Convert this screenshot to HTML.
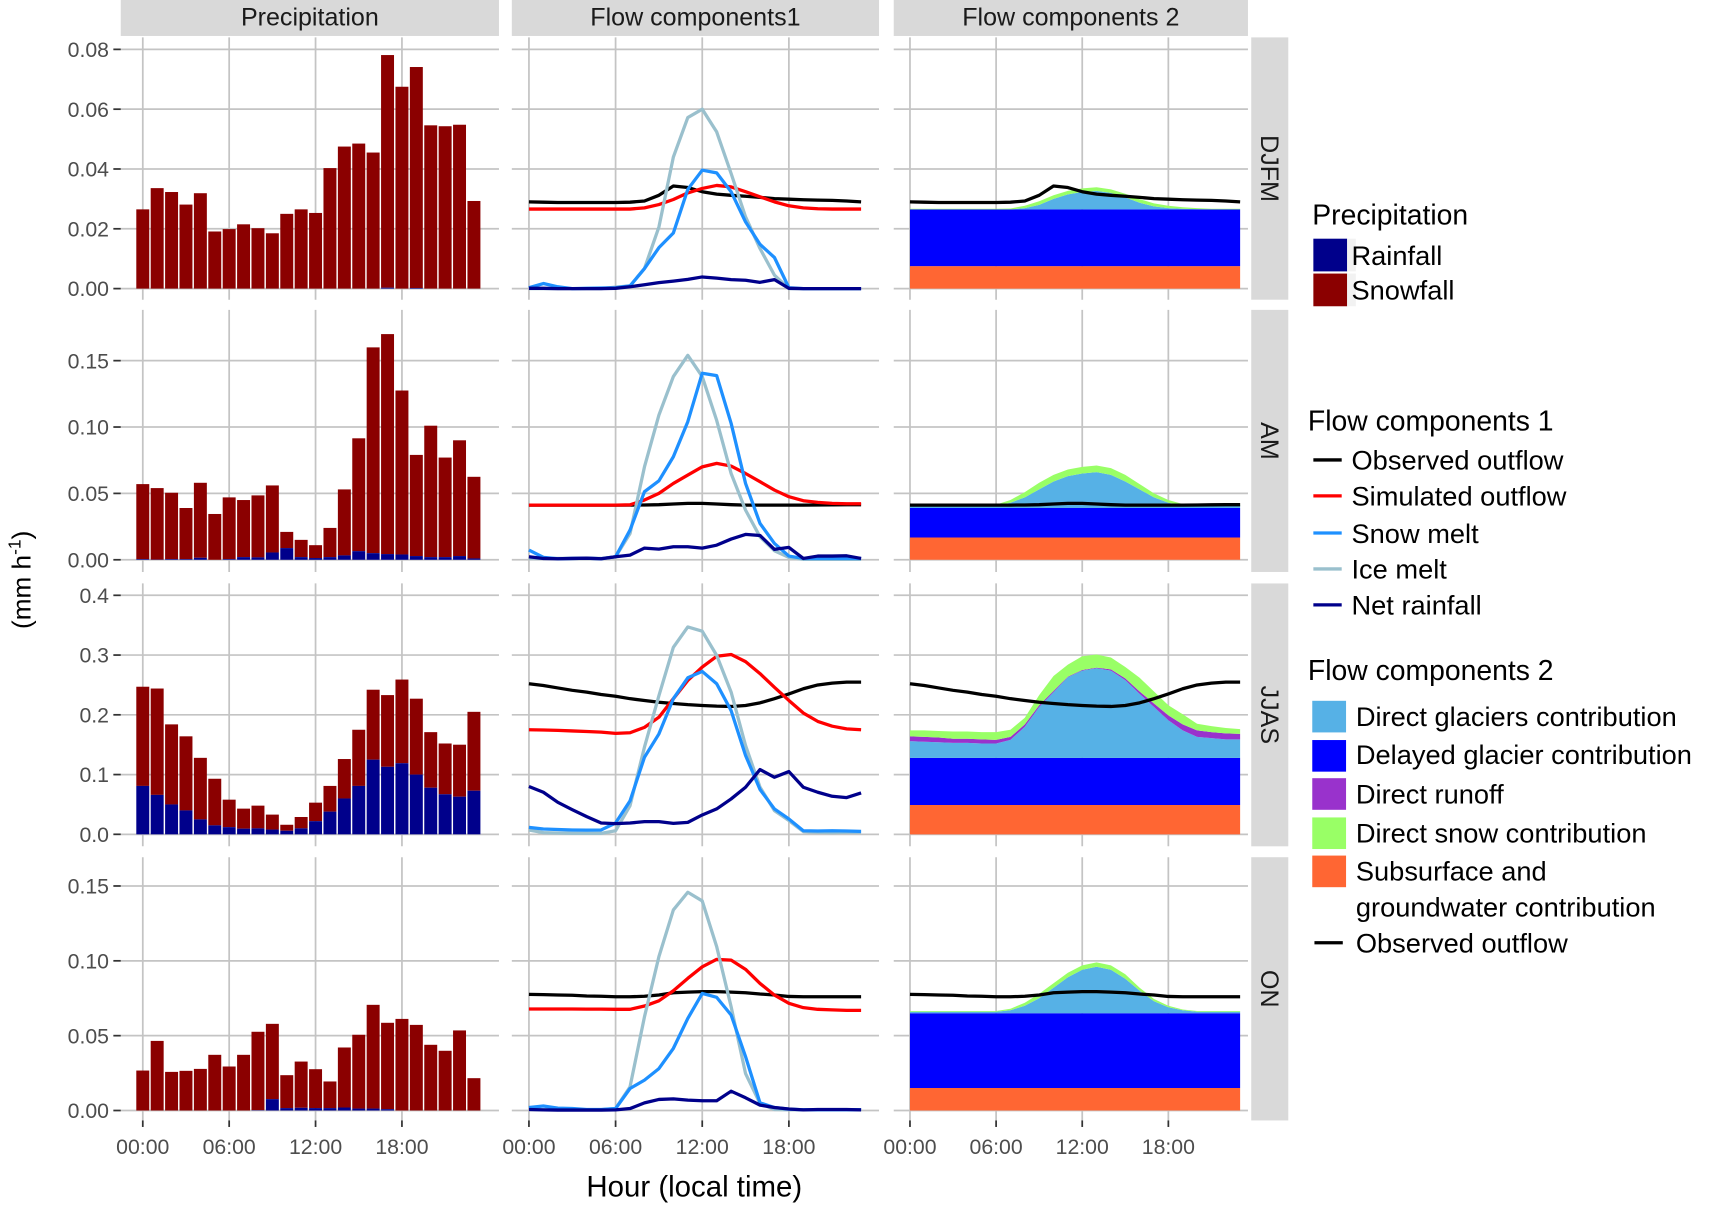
<!DOCTYPE html>
<html><head><meta charset="utf-8"><style>
html,body{margin:0;padding:0;background:#fff;}
svg{display:block;font-family:"Liberation Sans",sans-serif;}
</style></head><body>
<svg id="chart" xmlns="http://www.w3.org/2000/svg" width="1709" height="1205" viewBox="0 0 1568 1105.6" preserveAspectRatio="none"></svg>
<script>
// ---------- data ----------
const seasons = ["DJFM","AM","JJAS","ON"];
const hours = [0,1,2,3,4,5,6,7,8,9,10,11,12,13,14,15,16,17,18,19,20,21,22,23];
const xTickHours = [0,6,12,18];
const xTickLabels = ["00:00","06:00","12:00","18:00"];
const yTicks1 = [0,0.02,0.04,0.06,0.08];
const yTickLabels1 = ["0.00","0.02","0.04","0.06","0.08"];
const yTicks2 = [0,0.05,0.10,0.15];
const yTickLabels2 = ["0.00","0.05","0.10","0.15"];
const yTicks3 = [0,0.1,0.2,0.3,0.4];
const yTickLabels3 = ["0.0","0.1","0.2","0.3","0.4"];
const yTicks4 = [0,0.05,0.10,0.15];
const yTickLabels4 = ["0.00","0.05","0.10","0.15"];

const precipTotal1 = [.0265,.0336,.0323,.0281,.0319,.0191,.0199,.0215,.0202,.0185,.0250,.0265,.0253,.0403,.0475,.0485,.0455,.0781,.0675,.0741,.0546,.0543,.0548,.0293];
const rainfall1 = [0,0,0,0,0,0,0,0,0,0,0,0,0,0,0,0,0,0.0003,0,0.0002,0,0,0,0];
const precipTotal2 = [.057,.054,.0505,.039,.058,.0345,.047,.045,.0485,.056,.021,.015,.011,.024,.053,.0915,.160,.170,.1275,.079,.101,.077,.090,.0625];
const rainfall2 = [.0005,.0002,.0005,.0005,.0015,0,.0005,.002,.0018,.0055,.0088,.002,.0013,.002,.0033,.0065,.005,.0043,.004,.0028,.002,.002,.0028,.001];
const precipTotal3 = [.247,.244,.184,.164,.128,.093,.058,.043,.048,.033,.016,.029,.053,.081,.126,.175,.242,.233,.259,.227,.171,.152,.150,.205];
const rainfall3 = [.081,.066,.050,.040,.025,.015,.012,.0095,.010,.008,.006,.010,.022,.038,.060,.081,.125,.113,.119,.100,.078,.067,.063,.073];
const precipTotal4 = [.0267,.0465,.0258,.0265,.0278,.0372,.0294,.0372,.0526,.0579,.0236,.0327,.0276,.0194,.0421,.0506,.0706,.0586,.0612,.0572,.0439,.0399,.0535,.0216];
const rainfall4 = [0,0,0,0,0,0,0,0,.0002,.0076,.0016,.0018,.0016,.0016,.002,.0013,.0013,.0009,0,0,0,0,0,0];

const observed1 = [.0290,.0289,.0288,.0288,.0288,.0288,.0288,.0289,.0293,.0312,.0343,.0338,.0324,.0316,.0312,.0309,.0305,.0301,.0299,.0297,.0296,.0295,.0293,.0290];
const simulated1 = [.0266,.0266,.0266,.0266,.0266,.0266,.0266,.0266,.0270,.0281,.0298,.0320,.0335,.0345,.0340,.0324,.0307,.0290,.0277,.0270,.0267,.0266,.0266,.0266];
const snowMelt1 = [.0003,.0017,.0006,0,.0001,.0002,.0003,.0009,.0067,.0137,.0186,.0332,.0396,.0387,.0324,.0223,.0148,.0104,.0003,0,0,0,0,0];
const iceMelt1 = [0,0,0,0,0,0,.0005,.0009,.0067,.0206,.044,.0572,.060,.0524,.0385,.024,.0134,.0045,0,0,0,0,0,0];
const netRain1 = [.0001,.0001,0,0,0,0,.0001,.0006,.0013,.002,.0025,.0031,.0039,.0035,.003,.0028,.0021,.003,.0001,0,0,0,0,0];

const observed2 = [.0412,.0412,.0412,.0412,.0412,.0412,.0412,.0412,.0413,.0415,.042,.0425,.0425,.042,.0415,.0412,.0412,.0412,.0412,.0412,.0413,.0414,.0415,.0415];
const simulated2 = [.0412,.0412,.0412,.0412,.0412,.0412,.0412,.0414,.045,.050,.0575,.0638,.070,.0726,.0706,.065,.0588,.0525,.0475,.0445,.0432,.0425,.0422,.0422];
const snowMelt2 = [.0073,.0018,.0008,.001,.0012,.0008,.0023,.0224,.0513,.0595,.0776,.104,.1405,.1387,.1028,.0575,.0274,.0123,.0028,.001,.001,.001,.001,.001];
const iceMelt2 = [.001,.001,.001,.001,.001,.001,.0023,.0198,.070,.109,.138,.154,.138,.105,.065,.0374,.0173,.0068,.0018,.0003,.0003,.0003,.0003,.0003];
const netRain2 = [.0023,.001,.0008,.001,.0012,.0008,.0023,.0035,.0088,.008,.0098,.0098,.0088,.011,.0156,.0191,.0183,.0078,.0093,.001,.0028,.0028,.003,.001];

const observed3 = [.252,.249,.245,.241,.238,.234,.231,.227,.224,.221,.219,.217,.2156,.2145,.214,.2156,.220,.227,.235,.2436,.250,.253,.2547,.2547];
const simulated3 = [.175,.1745,.174,.173,.172,.171,.169,.170,.179,.196,.227,.2575,.280,.298,.301,.289,.269,.246,.224,.203,.189,.181,.1765,.175];
const snowMelt3 = [.0117,.009,.008,.0073,.007,.0073,.019,.056,.129,.168,.227,.262,.2726,.252,.207,.132,.075,.0425,.0257,.006,.0055,.006,.0055,.005];
const iceMelt3 = [.0073,.0028,.0022,.0017,.0017,.0017,.006,.048,.146,.232,.313,.347,.340,.2995,.238,.1486,.079,.0397,.023,.0045,.0034,.0028,.0034,.0034];
const netRain3 = [.080,.0704,.0536,.0413,.0296,.019,.0179,.019,.0212,.0212,.0184,.020,.0324,.0425,.0592,.0788,.1084,.0955,.105,.0788,.0704,.0637,.0615,.0693];

const observed4 = [.0776,.0774,.0772,.0770,.0765,.0763,.076,.076,.0763,.0772,.0787,.0791,.0794,.0794,.0791,.0787,.0778,.0772,.0762,.076,.076,.076,.076,.076];
const simulated4 = [.0678,.0678,.0678,.0678,.0677,.0677,.0676,.0676,.0698,.0733,.080,.0883,.096,.101,.1005,.0943,.0849,.0771,.0716,.0687,.0676,.0672,.0669,.0669];
const snowMelt4 = [.002,.003,.0016,.0013,.0007,.0007,.0013,.0147,.0203,.028,.0415,.0615,.0782,.0756,.0638,.036,.0051,.002,.0009,.0005,.0005,.0005,.0005,.0005];
const iceMelt4 = [.0007,.0005,.0005,.0005,.0005,.0005,.0013,.0158,.0626,.1028,.134,.1458,.140,.1095,.0693,.0247,.0047,.0007,.0005,.0005,.0005,.0005,.0005,.0005];
const netRain4 = [.0007,.0004,.0003,.0003,.0003,.0003,.0004,.0013,.0051,.0074,.0078,.0069,.0065,.0065,.0129,.0085,.0036,.002,.001,.0004,.0007,.0007,.0007,.0004];

const subsurface = [0.0075,0.0168,0.049,0.015];
const delayedGlacier = [0.019,0.0222,0.079,0.050];
const directGlacier1 = [0,0,0,0,0,0,0,0,.0004,.0015,.0035,.005,.0058,.0062,.0055,.004,.0022,.001,.0004,.0002,.0001,0,0,0];
const directSnow1 = [.0002,.0002,.0002,.0002,.0002,.0002,.0002,.0003,.0008,.0012,.0012,.0012,.0012,.0012,.0012,.0012,.0012,.001,.0008,.0005,.0003,.0002,.0002,.0002];
const directRunoff1 = [0,0,0,0,0,0,0,0,0,0,0,0,0,0,0,0,0,0,0,0,0,0,0,0];
const directGlacier2 = [.002,.002,.002,.002,.002,.002,.002,.004,.008,.014,.020,.024,.026,.027,.025,.020,.014,.008,.004,.002,.002,.002,.002,.002];
const directSnow2 = [.0005,.0005,.0005,.0005,.0005,.0005,.0005,.002,.004,.005,.005,.005,.005,.005,.005,.005,.004,.003,.002,.001,.0005,.0005,.0005,.0005];
const directRunoff2 = [0,0,0,0,0,0,0,0,0,0,0,0,0,0,0,0,0,0,0,0,0,0,0,0];
const directGlacier3 = [.028,.027,.026,.025,.025,.024,.024,.030,.052,.085,.110,.135,.146,.150,.146,.130,.107,.085,.063,.046,.035,.033,.031,.031];
const directSnow3 = [.010,.011,.011,.012,.012,.012,.013,.012,.011,.017,.025,.020,.023,.022,.020,.019,.023,.020,.017,.017,.011,.010,.009,.008];
const directRunoff3 = [.008,.008,.008,.007,.007,.007,.006,.005,.004,.003,.002,.001,.001,.001,.002,.003,.004,.006,.008,.010,.011,.010,.010,.009];
const directGlacier4 = [.001,.001,.001,.001,.001,.001,.001,.002,.005,.010,.017,.024,.029,.031,.029,.023,.015,.008,.004,.002,.001,.001,.001,.001];
const directSnow4 = [.0005,.0005,.0005,.0005,.0005,.0005,.0005,.001,.002,.003,.003,.003,.003,.003,.003,.003,.002,.0015,.001,.0005,.0005,.0005,.0005,.0005];
const directRunoff4 = [0,0,0,0,0,0,0,0,0,0,0,0,0,0,0,0,0,0,0,0,0,0,0,0];

// ---------- layout ----------
const NS = "http://www.w3.org/2000/svg";
const svg = document.getElementById("chart");
function mk(tag, attrs, parent){ const e=document.createElementNS(NS,tag); for(const k in attrs) e.setAttribute(k,attrs[k]); (parent||svg).appendChild(e); return e; }

const rowsY = [[34.3,275],[284.3,524.8],[535.3,776.5],[786.5,1028]];
const zeroPx = [264.8,513.6,765.5,1018.9];
const topPx = [45.3,330.9,546.2,812.9];
const topVal = [0.08,0.15,0.4,0.15];
const cols = [{l:110.8,r:457.8,x0:131,dx:13.21,title:"Precipitation"},
              {l:469.6,r:806.5,x0:485.3,dx:13.25,title:"Flow components1"},
              {l:820,r:1145,x0:834.9,dx:13.17,title:"Flow components 2"}];
const yTickSets = [[yTicks1,yTickLabels1],[yTicks2,yTickLabels2],[yTicks3,yTickLabels3],[yTicks4,yTickLabels4]];
function yS(r,v){ return zeroPx[r] - v*(zeroPx[r]-topPx[r])/topVal[r]; }
function xS(c,h){ return cols[c].x0 + h*cols[c].dx; }

const precipTotals=[precipTotal1,precipTotal2,precipTotal3,precipTotal4];
const rains=[rainfall1,rainfall2,rainfall3,rainfall4];
const obs=[observed1,observed2,observed3,observed4];
const sims=[simulated1,simulated2,simulated3,simulated4];
const snows=[snowMelt1,snowMelt2,snowMelt3,snowMelt4];
const ices=[iceMelt1,iceMelt2,iceMelt3,iceMelt4];
const nets=[netRain1,netRain2,netRain3,netRain4];
const dGl=[directGlacier1,directGlacier2,directGlacier3,directGlacier4];
const dSn=[directSnow1,directSnow2,directSnow3,directSnow4];
const dRo=[directRunoff1,directRunoff2,directRunoff3,directRunoff4];

cols.forEach((c,i)=>{
  const g=mk("g",{});
  
  
  mk("rect",{x:c.l,y:0,width:c.r-c.l,height:33,fill:"#d9d9d9"},g);
  const t=mk("text",{x:(c.l+c.r)/2,y:23.5,"text-anchor":"middle","font-size":23,fill:"#1a1a1a"},g);
  t.textContent=c.title;
});

function linePath(c,r,arr){ return arr.map((v,i)=>(i?"L":"M")+xS(c,hours[i]).toFixed(2)+","+yS(r,v).toFixed(2)).join(""); }
function areaPath(c,r,lo,hi){
  let d=hi.map((v,i)=>(i?"L":"M")+xS(c,hours[i]).toFixed(2)+","+yS(r,v).toFixed(2)).join("");
  for(let i=lo.length-1;i>=0;i--) d+="L"+xS(c,hours[i]).toFixed(2)+","+yS(r,lo[i]).toFixed(2);
  return d+"Z";
}

for(let r=0;r<4;r++){
  const [yt,yb]=rowsY[r];
  const [ticks,labels]=yTickSets[r];
  for(let c=0;c<3;c++){
    const col=cols[c];
    const pg=mk("g",{});
    
    
    ticks.forEach(v=>{ mk("line",{x1:col.l,x2:col.r,y1:yS(r,v),y2:yS(r,v),stroke:"#c4c4c4","stroke-width":1.6},pg); });
    xTickHours.forEach(h=>{ mk("line",{x1:xS(c,h),x2:xS(c,h),y1:yt,y2:yb,stroke:"#c4c4c4","stroke-width":1.6},pg); });
    if(c===0){
      hours.forEach((h,i)=>{
        const w=col.dx*0.9, x=xS(c,h)-w/2;
        const tot=precipTotals[r][i], rn=rains[r][i];
        const sb=mk("rect",{x:x,y:yS(r,tot),width:w,height:Math.max(0,yS(r,rn)-yS(r,tot)),fill:"#8b0000"},pg);
        
        
        const rb=mk("rect",{x:x,y:yS(r,rn),width:w,height:Math.max(0,yS(r,0)-yS(r,rn)),fill:"#00008b"},pg);
        
        
      });
    } else if(c===1){
      [[obs[r],"#000000","observed-outflow-line"],[sims[r],"#ff0000","simulated-outflow-line"],[ices[r],"#9ac0cd","ice-melt-line"],[snows[r],"#1e90ff","snow-melt-line"],[nets[r],"#00008b","net-rainfall-line"]].forEach(([arr,col2,nm])=>{
        const p=mk("path",{d:linePath(c,r,arr),fill:"none",stroke:col2,"stroke-width":3,"stroke-linejoin":"round"},pg);
        
        
      });
    } else {
      const zero=hours.map(()=>0);
      const l1=hours.map(()=>subsurface[r]);
      const l2=hours.map(()=>subsurface[r]+delayedGlacier[r]);
      const l3=l2.map((v,i)=>v+dGl[r][i]);
      const l4=l3.map((v,i)=>v+dRo[r][i]);
      const l5=l4.map((v,i)=>v+dSn[r][i]);
      [[zero,l1,"#ff6633","subsurface-area"],[l1,l2,"#0000ff","delayed-glacier-area"],[l2,l3,"#56b1e6","direct-glacier-area"],[l3,l4,"#9932cc","direct-runoff-area"],[l4,l5,"#99ff66","direct-snow-area"]].forEach(([lo,hi,f,nm])=>{
        const a=mk("path",{d:areaPath(c,r,lo,hi),fill:f,stroke:"none"},pg);
        
        
      });
      const ob=mk("path",{d:linePath(c,r,obs[r]),fill:"none",stroke:"#000","stroke-width":3,"stroke-linejoin":"round"},pg);
      
      
    }
    if(c===0){
      ticks.forEach((v,k)=>{
        mk("line",{x1:104,x2:110.8,y1:yS(r,v),y2:yS(r,v),stroke:"#333","stroke-width":1.6});
        const t=mk("text",{x:100,y:yS(r,v)+7,"text-anchor":"end","font-size":19.5,fill:"#4d4d4d"});
        
        
        t.textContent=labels[k];
      });
    }
    if(r===3){
      xTickHours.forEach((h,k)=>{
        mk("line",{x1:xS(c,h),x2:xS(c,h),y1:yb,y2:yb+6,stroke:"#333","stroke-width":1.6});
        const t=mk("text",{x:xS(c,h),y:yb+31,"text-anchor":"middle","font-size":19.5,fill:"#4d4d4d"});
        
        
        t.textContent=xTickLabels[k];
      });
    }
  }
  const sg=mk("g",{});
  
  
  mk("rect",{x:1148,y:yt,width:34,height:yb-yt,fill:"#d9d9d9"},sg);
  const st=mk("text",{x:0,y:0,"text-anchor":"middle","font-size":23,fill:"#1a1a1a",transform:`translate(1157,${(yt+yb)/2}) rotate(90)`},sg);
  st.textContent=seasons[r];
}
</script>
<svg style="position:absolute;left:0;top:0" width="1709" height="1205" viewBox="0 0 1568 1105.6" preserveAspectRatio="none">
  <text x="637" y="1098" text-anchor="middle" font-size="27" fill="#000" font-family="Liberation Sans, sans-serif">Hour (local time)</text>
  <text transform="translate(28,532) rotate(-90)" text-anchor="middle" font-size="24" fill="#000" font-family="Liberation Sans, sans-serif">(mm h<tspan dy="-9" font-size="16">-1</tspan><tspan dy="9">)</tspan></text>
  <g font-family="Liberation Sans, sans-serif" font-size="25">
    <text x="1204" y="206" font-size="26">Precipitation</text>
    <rect x="1205" y="219" width="31" height="30" fill="#00008b"/><rect x="1236" y="219" width="8" height="30" fill="#f2f2f2"/>
    <text x="1240" y="243">Rainfall</text>
    <rect x="1205" y="251" width="31" height="30" fill="#8b0000"/><rect x="1236" y="251" width="8" height="30" fill="#f2f2f2"/>
    <text x="1240" y="275">Snowfall</text>
  </g>
  <g font-family="Liberation Sans, sans-serif" font-size="25">
    <text x="1200" y="395" font-size="26">Flow components 1</text>
    <line x1="1205" x2="1231" y1="422" y2="422" stroke="#000" stroke-width="3"/><text x="1240" y="431">Observed outflow</text>
    <line x1="1205" x2="1231" y1="455" y2="455" stroke="#ff0000" stroke-width="3"/><text x="1240" y="464">Simulated outflow</text>
    <line x1="1205" x2="1231" y1="489" y2="489" stroke="#1e90ff" stroke-width="3"/><text x="1240" y="498">Snow melt</text>
    <line x1="1205" x2="1231" y1="522" y2="522" stroke="#9ac0cd" stroke-width="3"/><text x="1240" y="531">Ice melt</text>
    <line x1="1205" x2="1231" y1="555" y2="555" stroke="#00008b" stroke-width="3"/><text x="1240" y="564">Net rainfall</text>
  </g>
  <g font-family="Liberation Sans, sans-serif" font-size="25">
    <text x="1200" y="624" font-size="26">Flow components 2</text>
    <rect x="1204" y="643" width="31" height="29" fill="#56b1e6"/><text x="1244" y="666">Direct glaciers contribution</text>
    <rect x="1204" y="679" width="31" height="29" fill="#0000ff"/><text x="1244" y="701">Delayed glacier contribution</text>
    <rect x="1204" y="714" width="31" height="29" fill="#9932cc"/><text x="1244" y="737">Direct runoff</text>
    <rect x="1204" y="750" width="31" height="29" fill="#99ff66"/><text x="1244" y="773">Direct snow contribution</text>
    <rect x="1204" y="785" width="31" height="29" fill="#ff6633"/><text x="1244" y="808">Subsurface and</text>
    <text x="1244" y="841">groundwater contribution</text>
    <line x1="1206" x2="1232" y1="865" y2="865" stroke="#000" stroke-width="3"/><text x="1244" y="874">Observed outflow</text>
  </g>
</svg>
</body></html>
